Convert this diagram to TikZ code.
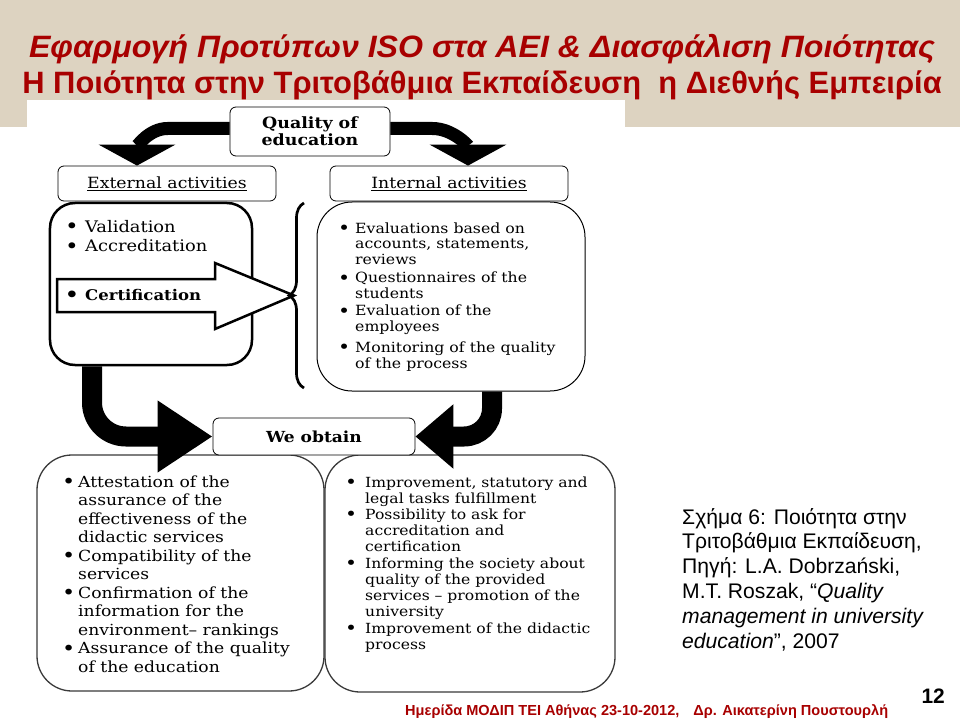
\documentclass[tikz,border=0pt]{standalone}
\usepackage{fontspec}
\setmainfont[FakeStretch=1.12]{DejaVu Serif}
\newfontfamily\arialfont{Liberation Sans}
\usepackage{graphicx}
\usetikzlibrary{arrows.meta,positioning,decorations.pathreplacing}
\definecolor{titleRed}{HTML}{A80000}
\definecolor{bandBeige}{HTML}{DDD3C1}
\definecolor{edgeGray}{HTML}{3A3A3A}
% bullet list: first column holds the bullet
\newcommand{\blist}[2]{\begin{tabular}[t]{@{}p{#1}@{}l@{}}#2\end{tabular}}
\newcommand{\bul}{\raisebox{-0.1em}{\scalebox{1.3}{\textbullet}}}

\begin{document}
\begin{tikzpicture}[x=1bp,y=1bp,
  tag/.style={draw, rounded corners=6bp, fill=white, line width=0.8bp, inner sep=0pt, align=center},
  panel/.style={draw, rounded corners=#1, fill=white, inner sep=0pt, line width=1bp},
  items/.style={anchor=base west, inner sep=0pt},
  fattop/.style={line width=13bp, -{Triangle[width=76bp,length=21bp]}},
  fatbot/.style={line width=20bp, rounded corners=34bp, -{Triangle[width=68bp,length=55bp]}},
  blockarrow/.style={draw, fill=white, line width=2.5bp, line join=miter},
  bigbrace/.style={decorate, decoration={brace, amplitude=15bp}, line width=2.7bp}
]
% page and title band
\fill[white] (0,0) rectangle (960,-720);
\fill[bandBeige] (0,0) rectangle (960,-127);
\fill[white] (27,-100) rectangle (625,-127);
\node[anchor=base, inner sep=0pt, text=titleRed, font=\arialfont\bfseries\itshape\fontsize{31}{31}\selectfont] (head1) at (482,-58)
  {\scalebox{1.04}[1]{Εφαρμογή Προτύπων ISO στα ΑΕΙ \& Διασφάλιση Ποιότητας}};
\node[anchor=base, inner sep=0pt, text=titleRed, font=\arialfont\bfseries\fontsize{31}{31}\selectfont] (head2) at (482,-94)
  {Η Ποιότητα στην Τριτοβάθμια Εκπαίδευση\ \ η Διεθνής Εμπειρία};

% result panels
\node[panel=35bp, line width=1.3bp, draw=edgeGray, minimum width=287bp, minimum height=236bp] (resleft) at (180.5,-573) {};
\node[panel=35bp, line width=1.3bp, draw=edgeGray, minimum width=290bp, minimum height=237bp] (resright) at (470,-573.5) {};
\node[items, font=\fontsize{15.4}{18.6}\selectfont] (resleftlist) at (62,-487) {\blist{16bp}{
  \bul & Attestation of the\\ & assurance of the\\ & effectiveness of the\\ & didactic services\\
  \bul & Compatibility of the\\ & services\\
  \bul & Confirmation of the\\ & information for the\\ & environment-- rankings\\
  \bul & Assurance of the quality\\ & of the education}};
\node[items, font=\fontsize{14}{16.3}\selectfont] (resrightlist) at (345,-487) {\blist{20bp}{
  \bul & Improvement, statutory and\\ & legal tasks fulfillment\\
  \bul & Possibility to ask for\\ & accreditation and\\ & certification\\
  \bul & Informing the society about\\ & quality of the provided\\ & services -- promotion of the\\ & university\\
  \bul & Improvement of the didactic\\ & process}};

% activity panels
\node[panel=25bp, line width=2.5bp, minimum width=202bp, minimum height=162bp] (extbox) at (151,-284) {};
\node[panel=35bp, minimum width=268bp, minimum height=189bp] (intbox) at (451,-296.5) {};
\node[items, font=\fontsize{16}{20}\selectfont] (extlist) at (65,-232) {\blist{20bp}{
  \bul & Validation\\ \bul & Accreditation}};
\node[items, font=\fontsize{14.1}{16}\selectfont] (intlist) at (338,-233) {\blist{17bp}{
  \bul & Evaluations based on\\ & accounts, statements,\\ & reviews\\[2bp]
  \bul & Questionnaires of the\\ & students\\[1bp]
  \bul & Evaluation of the\\ & employees\\[5bp]
  \bul & Monitoring of the quality\\ & of the process}};

% labels
\node[tag, minimum width=160bp, minimum height=49bp, font=\bfseries\fontsize{15.6}{17}\selectfont] (quality) at (310,-131.5) {Quality of\\education};
\node[tag, minimum width=218bp, minimum height=35bp, font=\fontsize{15.5}{17}\selectfont] (ext) at (167,-183.5) {\underline{External activities}};
\node[tag, minimum width=238bp, minimum height=35bp, font=\fontsize{15.5}{17}\selectfont] (int) at (449,-183.5) {\underline{Internal activities}};
\node[tag, minimum width=202bp, minimum height=37bp, font=\bfseries\fontsize{15.3}{17}\selectfont] (obtain) at (314,-436.5) {We obtain};

% thick arrows
\draw[fattop] ([yshift=3bp]quality.west) -- ++(-62,0) to[out=180,in=90] ([xshift=-30bp]ext.north);
\draw[fattop] ([yshift=3bp]quality.east) -- ++(42,0) to[out=0,in=90] ([xshift=19bp]int.north);
\draw[fatbot] ([xshift=-59bp]extbox.south) |- (obtain.west);
\draw[fatbot, rounded corners=28bp, -{Triangle[width=62bp,length=38bp]}] ([xshift=41bp]intbox.south) |- (obtain.east);

% certification arrow and brace
\draw[blockarrow] (57,-279) -- (215,-279) -- (215,-263) -- (294,-295.5) -- (215,-329) -- (215,-312) -- (57,-312) -- cycle;
\node[items, font=\bfseries\fontsize{14.8}{16}\selectfont] (cert) at (65,-300) {\blist{20bp}{\bul & Certification}};
\coordinate (brtop) at (304,-203);
\coordinate (brbot) at (304,-388);
\draw[bigbrace] (brbot) -- (brtop);

% caption and footer
\node[items, font=\arialfont\fontsize{21.2}{25}\selectfont] (caption) at (682,-524) {\begin{tabular}[t]{@{}l@{}}
  Σχήμα 6: Ποιότητα στην\\ Τριτοβάθμια Εκπαίδευση,\\ Πηγή: L.A. Dobrzański,\\ M.T. Roszak, “\textit{Quality}\\
  \textit{management in university}\\ \textit{education}”, 2007\end{tabular}};
\node[items, text=titleRed, font=\arialfont\bfseries\fontsize{14.6}{14.6}\selectfont] (foot) at (405,-715)
  {Ημερίδα ΜΟΔΙΠ ΤΕΙ Αθήνας 23-10-2012,\hspace{14bp}Δρ. Αικατερίνη Πουστουρλή};
\node[anchor=base east, inner sep=0pt, font=\arialfont\bfseries\fontsize{21}{21}\selectfont] (pageno) at (945,-703) {12};
\end{tikzpicture}
\end{document}
